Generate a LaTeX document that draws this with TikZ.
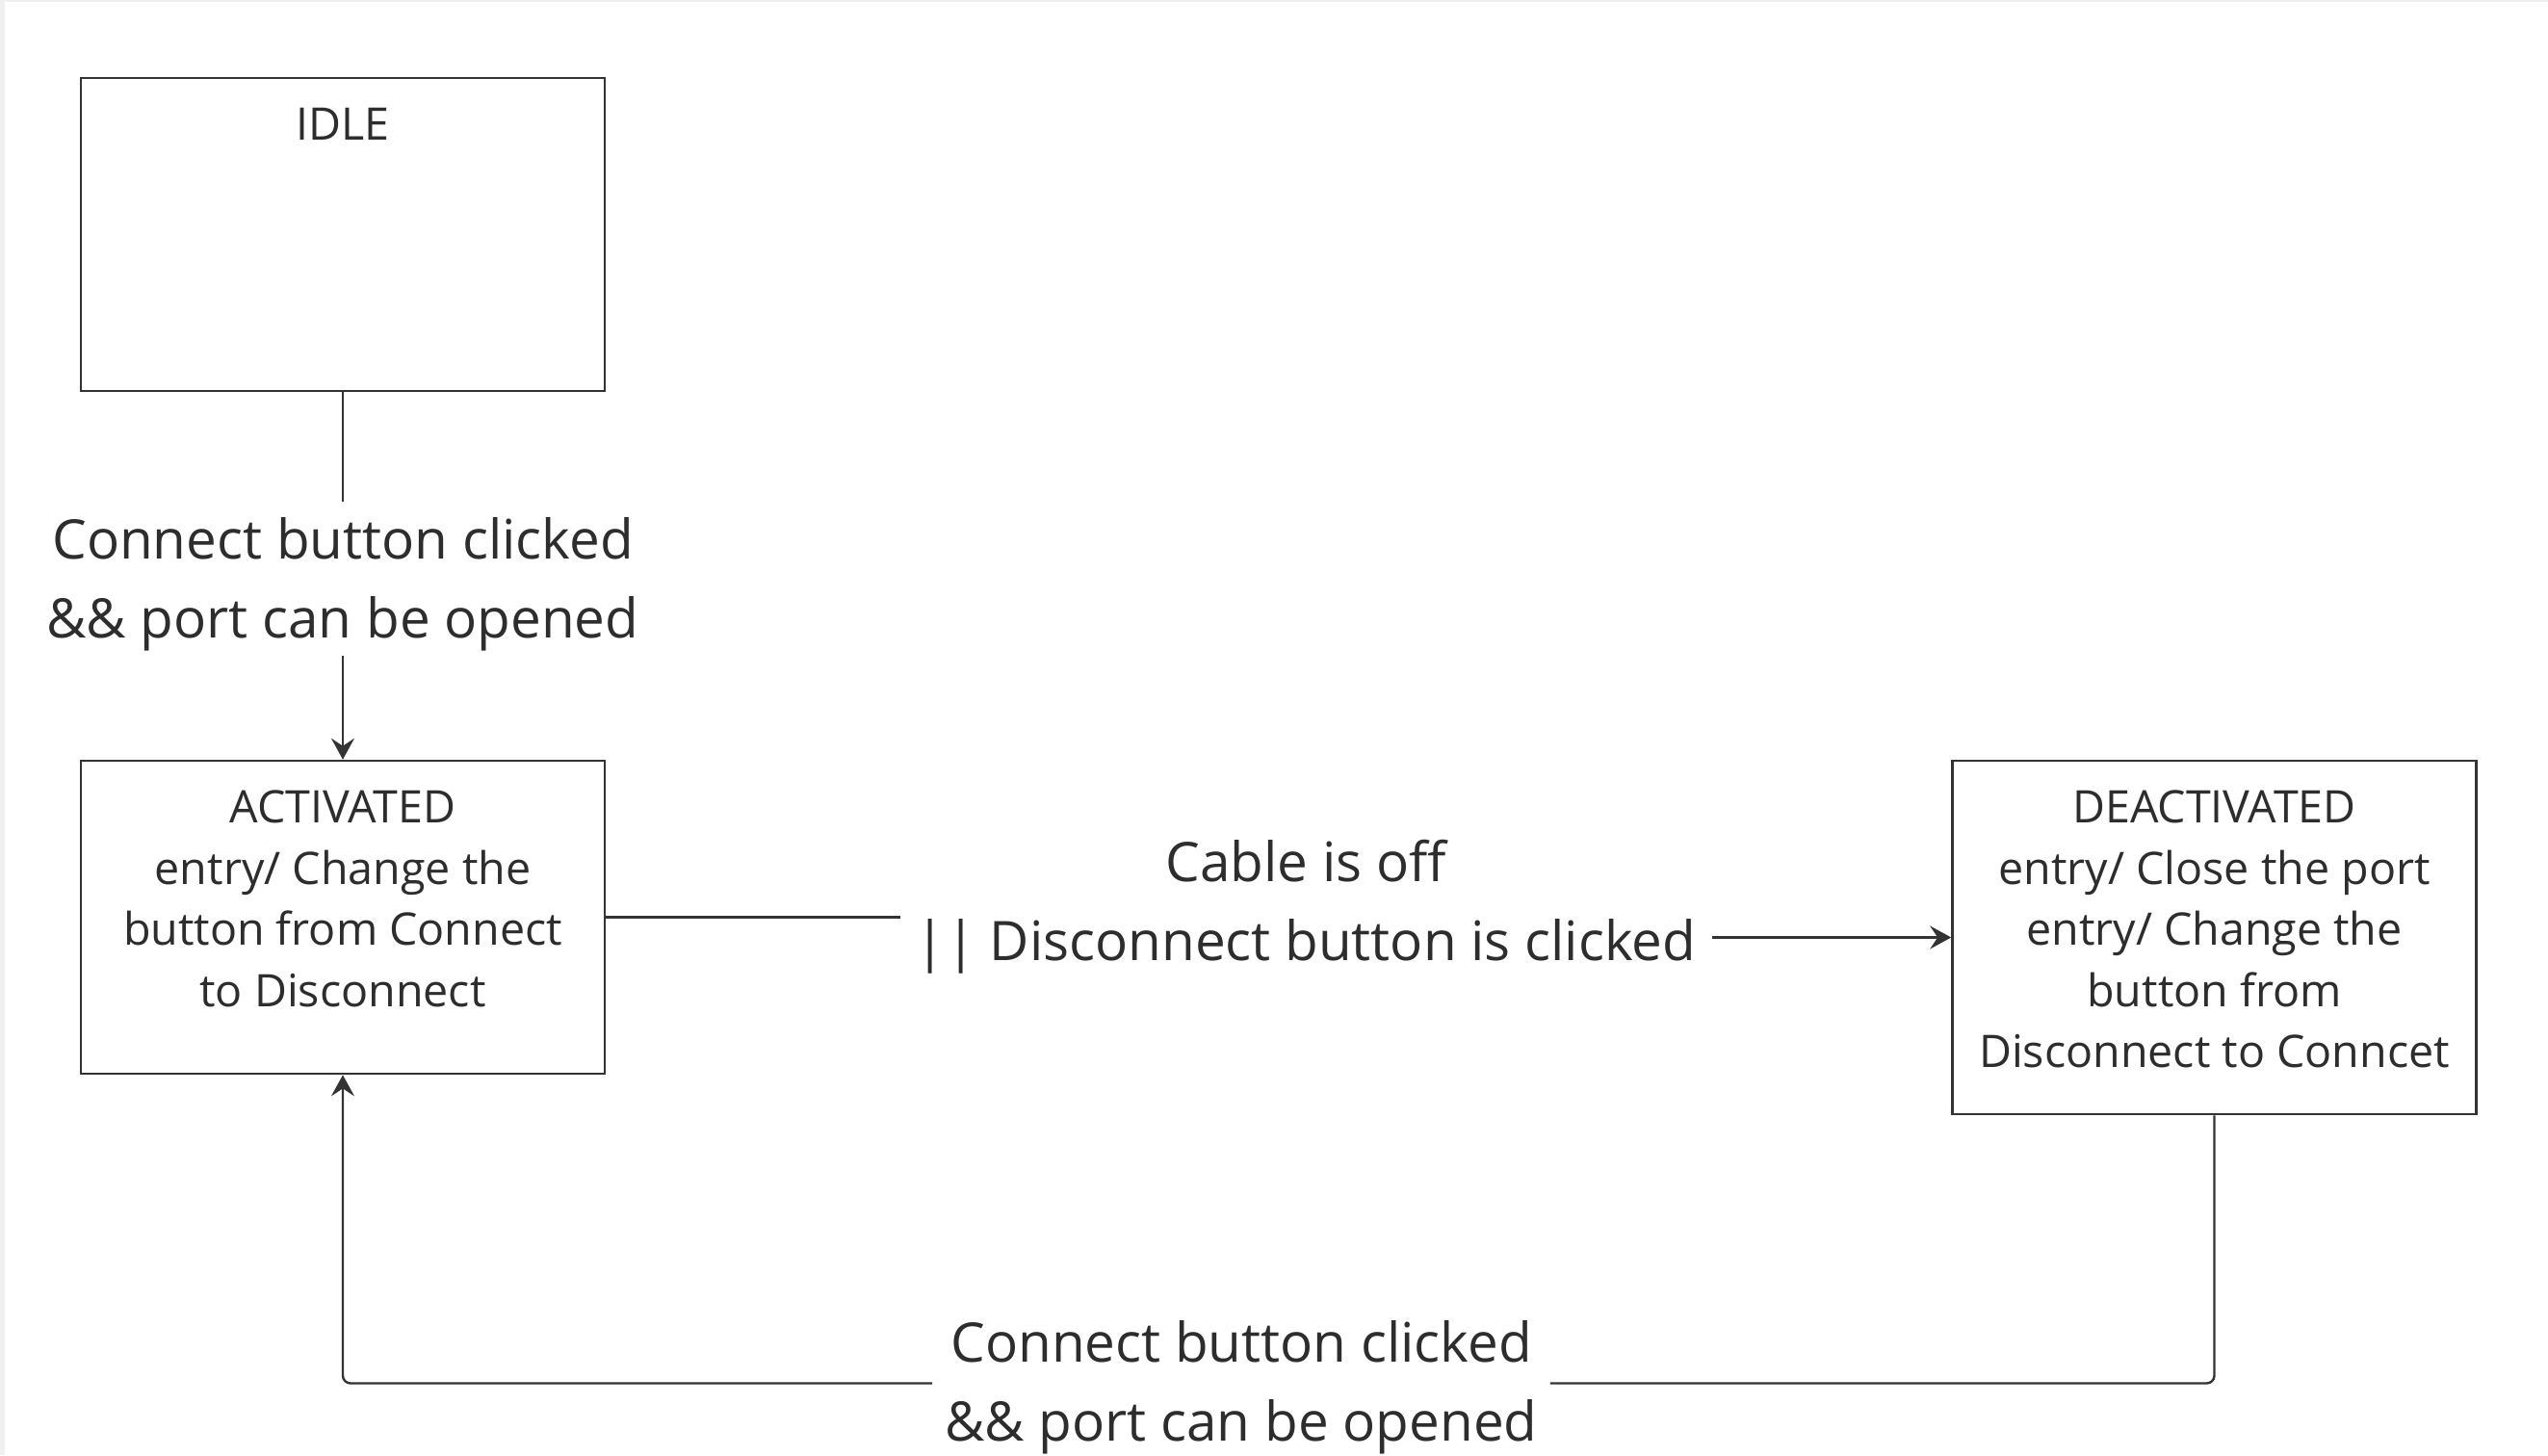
\documentclass[tikz,border=0pt]{standalone}
\usepackage{fontspec}
\setmainfont{Open Sans}
\usepackage{tikz}
\usetikzlibrary{arrows.meta, positioning, backgrounds}
\definecolor{linegray}{RGB}{51, 51, 51}
\definecolor{textgray}{RGB}{45, 45, 45}
\definecolor{framegray}{RGB}{240, 240, 240}
\tikzset{
    statenode/.style = {draw=linegray, rectangle, line width=1.3pt, minimum width=272pt,
      minimum height=162.5pt, inner sep=0em, node distance=0em},
    textnode/.style  = {draw=none, fill=none, rectangle, inner sep=0em, node distance=0em,
      text=textgray, font=\fontsize{23.3pt}{31.75pt}\selectfont},
    edgetextnode/.style = {draw=none, fill=none, rectangle, inner xsep=8pt, inner ysep=8pt,
      node distance=0em, text=textgray, font=\fontsize{28.3pt}{41pt}\selectfont},
    plain/.style = {draw=linegray, line width=1.2pt},
    connect/.style = {plain, -{Stealth[length=11pt, width=12pt, inset=4pt]}},
    every text node part/.style={align=center}
}

\begin{document}
\begin{tikzpicture}
\fill [framegray] (0,0) rectangle (1323pt,-755.5pt);
\fill [white] (2.25pt,-0.85pt) rectangle (1323pt,-755.5pt);
\useasboundingbox (0,0) rectangle (1323pt,-755.5pt);

\node [statenode, name=idle] at (178pt,-121.75pt) {};
\node [textnode, name=idletext, anchor=north, yshift=-16pt] at (idle.north) {IDLE};

\node [edgetextnode, name=openlabel, below of = idle, yshift=-181.75pt] {Connect button clicked\\\&\& port can be opened};

\node [statenode, name=act, below of = idle, yshift=-354.5pt] {};
\node [textnode, name=acttext, anchor=north, yshift=-16pt] at (act.north) {ACTIVATED\\entry/ Change the\\button from Connect\\to Disconnect};

\node [statenode, name=deact, right of = act, xshift=971.75pt, yshift=-10.5pt, minimum height=183.5pt] {};
\node [textnode, name=deacttext, anchor=north, yshift=-16pt] at (deact.north) {DEACTIVATED\\entry/ Close the port\\entry/ Change the\\button from\\Disconnect to Conncet};

\node [edgetextnode, name=offlabel, right of = act, xshift=500pt, yshift=5.5pt] {Cable is off\\|| Disconnect button is clicked};
\node [edgetextnode, name=reopenlabel, below of = act, xshift=466.5pt, yshift=-244pt, inner xsep=6.5pt] {Connect button clicked\\\&\& port can be opened};

\draw [plain] (idle) -- (openlabel);
\draw [connect] ([yshift=6pt]openlabel.south) -- (act);
\draw [plain] (act.east) -- (act.east -| offlabel.west);
\draw [connect] (offlabel.east |- deact.west) -- (deact.west);
\draw [plain, rounded corners=4pt] (deact.south) |- ([yshift=2pt]reopenlabel.east);
\draw [connect, rounded corners=4pt] ([yshift=2pt]reopenlabel.west) -| (act.south);
\end{tikzpicture}
\end{document}
